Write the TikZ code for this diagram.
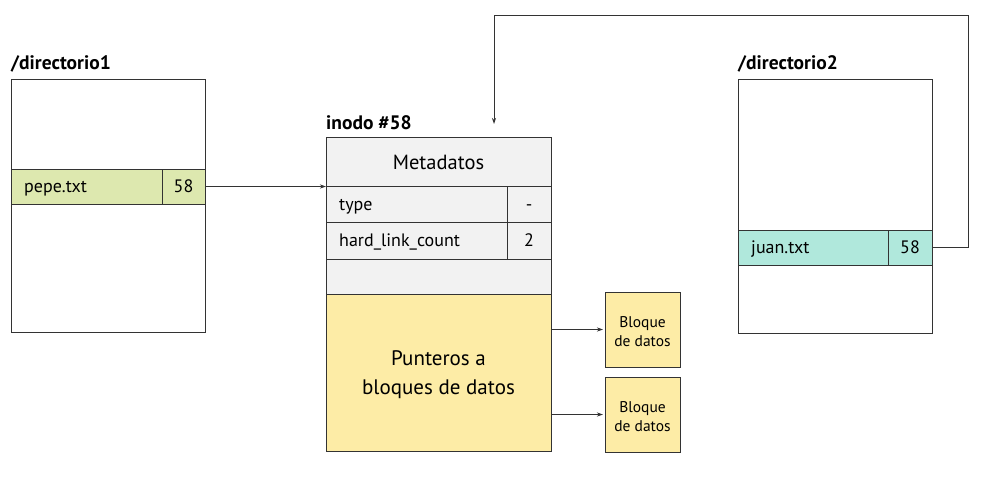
\documentclass[tikz,border=0pt]{standalone}
\usepackage{fontspec}
\setmainfont{PT Sans}
\usetikzlibrary{arrows.meta,calc}
\definecolor{bordc}{HTML}{333333}
\definecolor{greyf}{HTML}{F2F2F2}
\definecolor{yelf}{HTML}{FDECA6}
\definecolor{greenf}{HTML}{DDE8AF}
\definecolor{tealf}{HTML}{B0E8DC}
\tikzset{
  box/.style={draw=bordc, line width=0.9pt, inner sep=0pt, outer sep=0pt, anchor=north west},
  lbl/.style={font=\fontsize{19.5}{21}\selectfont\bfseries, anchor=base west, inner sep=0pt},
  cell/.style={font=\fontsize{18}{20}\selectfont, inner sep=0pt},
  conn/.style={draw=bordc, line width=0.9pt, -{Stealth[length=6pt,width=4pt]}},
}
\begin{document}
\begin{tikzpicture}[x=1pt,y=-1pt]
\useasboundingbox (0,0) rectangle (984,482);
% directorio1
\node[lbl] (l1) at (11,69) {/directorio1};
\node[box, minimum width=194pt, minimum height=253pt] (d1) at (11,79) {};
\node[box, fill=greenf, minimum width=151pt, minimum height=35pt] (d1n) at (11,169) {};
\node[box, fill=greenf, minimum width=43pt, minimum height=35pt] (d1v) at (162,169) {};
\node[cell, anchor=mid west] at ([xshift=13pt,yshift=-3.5pt]d1n.west) {pepe.txt};
\node[cell, anchor=mid] at ([yshift=-3.5pt]d1v.center) {58};
% inode
\node[lbl] (l2) at (326,129) {inodo \#58};
\node[box, fill=greyf, minimum width=225pt, minimum height=157pt] (ig) at (326,137) {};
\node[font=\fontsize{20.5}{22}\selectfont, anchor=mid, inner sep=0pt] (meta) at (438.5,166.5) {Metadatos};
\node[box, fill=greyf, minimum width=181pt, minimum height=36pt] (tn) at (326,186) {};
\node[box, fill=greyf, minimum width=44pt, minimum height=36pt] (tv) at (507,186) {};
\node[box, fill=greyf, minimum width=181pt, minimum height=37pt] (hn) at (326,222) {};
\node[box, fill=greyf, minimum width=44pt, minimum height=37pt] (hv) at (507,222) {};
\node[cell, anchor=mid west] at ([xshift=13pt,yshift=-3.5pt]tn.west) {type};
\node[cell, anchor=mid] at ([yshift=-3.5pt]tv.center) {-};
\node[cell, anchor=mid west] at ([xshift=13pt,yshift=-3.5pt]hn.west) {hard\_link\_count};
\node[cell, anchor=mid] at ([yshift=-3.5pt]hv.center) {2};
\node[box, fill=yelf, minimum width=225pt, minimum height=157pt] (ptr) at (326,294) {};
\node[align=center, font=\fontsize{21}{29}\selectfont, inner sep=0pt] at ([yshift=-2pt]ptr.center) {Punteros a\\bloques de datos};
% bloques
\node[box, fill=yelf, minimum width=75pt, minimum height=75pt] (b1) at (605,292) {};
\node[box, fill=yelf, minimum width=75pt, minimum height=75pt] (b2) at (605,377) {};
\node[align=center, font=\fontsize{15.5}{19}\selectfont, inner sep=0pt] at ([yshift=-2pt]b1.center) {Bloque\\de datos};
\node[align=center, font=\fontsize{15.5}{19}\selectfont, inner sep=0pt] at ([yshift=-2pt]b2.center) {Bloque\\de datos};
% directorio2
\node[lbl] (l3) at (738,69) {/directorio2};
\node[box, minimum width=194pt, minimum height=254pt] (d2) at (738,79) {};
\node[box, fill=tealf, minimum width=150pt, minimum height=35pt] (d2n) at (738,230) {};
\node[box, fill=tealf, minimum width=44pt, minimum height=35pt] (d2v) at (888,230) {};
\node[cell, anchor=mid west] at ([xshift=13pt,yshift=-3.5pt]d2n.west) {juan.txt};
\node[cell, anchor=mid] at ([yshift=-3.5pt]d2v.center) {58};
% connectors
\draw[conn] (d1v.east) -- (d1v.east -| ig.west);
\draw[conn] (ptr.east |- b1.west) -- ([xshift=-2pt]b1.west);
\draw[conn] (ptr.east |- b2.west) -- ([xshift=-2pt]b2.west);
\coordinate (tip) at (494,124);
\draw[conn] (d2v.east) -- ++(36,0) |- (494,15) -- (tip);
\end{tikzpicture}
\end{document}
